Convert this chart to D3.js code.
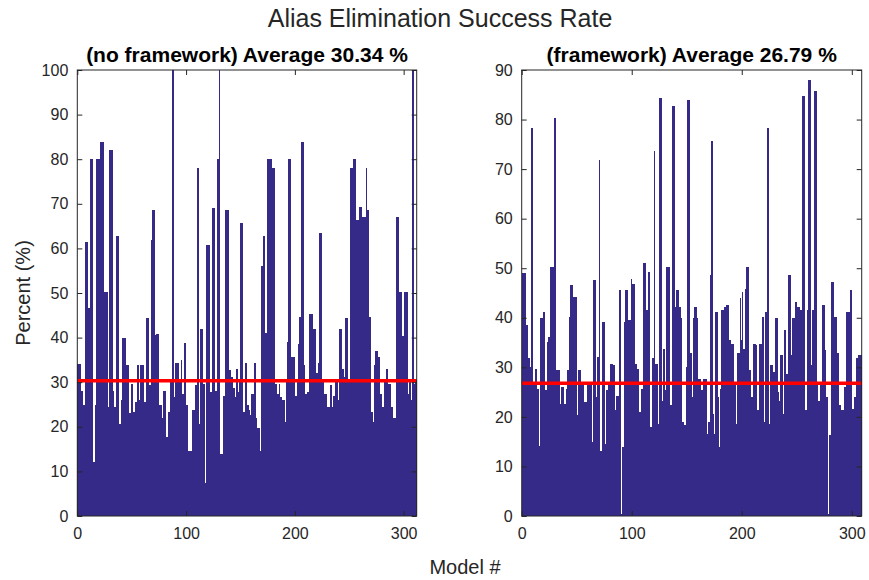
<!DOCTYPE html>
<html>
<head>
<meta charset="utf-8">
<script src="https://cdn.jsdelivr.net/npm/d3@7"></script>
<style>
  body { margin: 0; background: #fff; }
  text { font-family: "Liberation Sans", Arial, Helvetica, sans-serif; fill: #262626; }
</style>
</head>
<body>
<div id="chart"></div>
<script>
var width = 869,
  height = 580;

// success rate per model, no framework
var noFramework = [
  34,34,34,28,28,25,25,61.5,61.5,28,46.6,46.6,80,80,12,12,25,80,80,80,
  16,83.8,83.8,83.8,41.7,50.3,50.3,50.3,24.5,82,82,82,28,24.5,24.5,21,62.8,62.8,20.7,20.7,
  26,40,40,40,26,33.8,33.8,23,23,29.6,29.6,23.4,23.4,25.5,25.5,33.8,26,26,33.8,33.8,
  33.8,25.5,25.5,44.3,44.3,29.3,29.3,29.3,61.9,68.6,68.6,40.5,40.9,40.9,40.9,25,25,22,22,28,
  28,17.7,17.7,23.4,23.4,30.8,30.8,100,26.6,26.6,34.2,34.2,34.2,30,30,35,27.4,27.4,38.7,25,
  25,14.5,14.5,14.5,14.5,23.7,23.7,23.7,29.3,29.3,78,20.7,20.7,42,42,29.6,29.6,7.4,60.8,60.8,
  60.8,17.3,27.7,27.7,69,69,28,28,80,80,100,13.8,13.8,10.4,27,27,68.6,68.6,68.6,32.7,
  32.7,31.2,31.2,28.6,26.6,26.6,32.9,27.7,27.7,30.4,65.6,65.6,23.4,23.4,34.2,25,25,23.7,22.6,22.6,
  27.4,27.4,34.2,34.2,22,19.8,19.8,14.5,14.5,56,56,62.7,41,41,80,80,80,80,25.5,78,
  78,29.6,29.6,27.4,27.4,29.6,26.6,26.6,26,26,21,21,30.4,39,80,80,35.7,35.7,35.7,35.7,
  27,27,30.4,38.6,44.6,42.5,83.8,83.8,33.8,27.4,27.4,27.7,27.7,45.3,45.3,45.3,31.2,42,42,32,
  32,34.2,63.5,63.5,30.8,30.8,27.4,27.4,27.4,24.5,24.5,24.5,29.3,29.3,24.5,27,27,30,30,26,
  26,42,42,33,33,31.2,44.3,44.3,30.4,30.4,23.7,78,78,80,80,80,66.3,66.3,21,69.3,
  69.3,32.7,67,67,67,78,68.6,68.6,44.6,23.4,23.4,21,21,33.8,37.1,37.1,35.7,35.7,27.4,27.4,
  24.5,24.5,30,30,33,29.6,29.6,29.6,24.5,24.5,22,22,19.5,67,67,31.2,50.3,50.3,40.3,40.3,
  50.3,50.3,50.3,27.4,27.4,30,26,26,100,29.6,30.4,30.4
];

// success rate per model, with framework
var withFramework = [
  49,49,49,38.5,38.5,31.8,31.8,30,78.3,78.3,26.4,26.4,29.7,25.7,25.7,14.2,14.2,39.9,39.9,41.2,
  41.2,25.4,25.4,35.1,36.1,36.1,50.3,50.3,50.3,80.3,80.3,29.4,29.4,29.4,22.7,22.7,26,26,22.7,22.7,
  25.7,29.4,29.4,40.2,46.6,46.6,30,44.2,44.2,44.2,20.3,29.4,29.4,26.4,26.7,26.7,17.6,23,23,26.7,
  26.7,26.7,26.7,14.9,14.9,47.6,47.6,24,32.1,32.1,71.9,13.2,13.2,39.2,39.2,8.2,14.6,25.4,27,27,
  30.7,30.7,30.4,30.4,21.3,21.3,24.3,24.3,45.6,45.6,0.4,13.9,13.9,39.2,45.6,45.6,31.8,39.5,39.5,47.9,
  46.9,46.9,30.7,30.7,29.7,29.7,21,21,25.7,25.7,51,51,41.5,41.5,25.7,49.3,17.9,17.9,31.8,31.8,
  73.6,30.7,30.7,18.6,18.6,84.4,84.4,23.3,33.8,33.8,25.4,50.3,50.3,50.3,12.5,22.3,22.3,82.7,82.7,42.2,
  45.6,45.6,42.2,42.2,39.9,19,19,18.3,18.3,30,84,84,32.8,32.8,24,24,39.9,42.2,42.2,39.9,
  27.7,27.7,25.4,25.4,21.6,27.7,27.7,27.7,16.6,19,19,48.6,75.6,20.6,16.6,16.6,41.2,41.2,24,13.9,
  25.7,41.5,41.5,17.3,42.2,42.2,42.5,42.5,35.5,35.5,34.8,34.8,26.4,26.4,18.6,18.6,32.8,32.8,43.9,35.5,
  45.2,33.8,33.8,45.9,50.3,50.3,29.4,29.4,24,24,34.8,34.8,34.5,13.6,21.3,21.3,34.8,34.8,40.2,40.2,
  19,41.2,41.2,78.3,18.6,18.6,30.4,30.4,29.1,29.1,39.9,39.9,25,23.3,23.3,32.4,32.4,20.6,37.5,37.5,
  28.7,28.7,48.6,48.6,32.4,32.4,39.9,39.9,43.2,43.2,42.2,42.2,41.5,41.5,25.4,84.7,84.7,21.3,21.3,41.5,
  88,88,30.4,30.4,41.5,41.5,85.7,85.7,26.7,23.3,23.3,27,27,42.5,42.5,33.4,24,24,0.4,16.3,
  16.3,47.3,47.3,13.9,40.2,40.2,32.8,32.8,22.3,22.3,21.3,21.3,11.9,26,26,41.2,41.2,41.2,45.6,45.6,
  21.6,21.6,24,24,31.8,31.8,32.4,32.4,32.4
];

var averages = [30.34, 26.79];
var subtitles = ["(no framework) Average 30.34 %", "(framework) Average 26.79 %"];
var xTicks = [0, 100, 200, 300];
var yTicksLeft = [0, 10, 20, 30, 40, 50, 60, 70, 80, 90, 100];
var yTicksRight = [0, 10, 20, 30, 40, 50, 60, 70, 80, 90];
var yMax = [100, 90];

var barColor = "#352a87",
  axisColor = "#262626";

var svg = d3.select("#chart").append("svg")
  .attr("width", width)
  .attr("height", height);

svg.append("text")
  .attr("x", 440)
  .attr("y", 27)
  .attr("text-anchor", "middle")
  .style("font-size", "25px")
  .text("Alias Elimination Success Rate");

svg.append("text")
  .attr("x", 465)
  .attr("y", 574)
  .attr("text-anchor", "middle")
  .style("font-size", "20px")
  .text("Model #");

svg.append("text")
  .attr("transform", "translate(30,293) rotate(-90)")
  .attr("text-anchor", "middle")
  .style("font-size", "20px")
  .text("Percent (%)");

var panels = [
  { values: noFramework, left: 77.3, right: 416.7, yTicks: yTicksLeft },
  { values: withFramework, left: 521.7, right: 861.7, yTicks: yTicksRight }
];

panels.forEach(function(p, k) {
  var top = 70, bottom = 516;
  var n = p.values.length;

  var x = d3.scaleLinear().domain([0, n]).range([p.left, p.right]);
  var y = d3.scaleLinear().domain([0, yMax[k]]).range([bottom, top]);

  var g = svg.append("g").attr("class", "panel");

  // bars, overlapped a bit so no seams show between them
  var bw = x(1) - x(0);
  g.append("g")
    .attr("shape-rendering", "crispEdges")
    .selectAll("rect")
    .data(p.values)
    .enter().append("rect")
    .attr("x", function(d, i) { return x(i); })
    .attr("width", bw + 0.6)
    .attr("y", function(d) { return y(d); })
    .attr("height", function(d) { return y(0) - y(d); })
    .attr("fill", barColor);

  // average line
  g.append("line")
    .attr("x1", x(0))
    .attr("x2", x(n))
    .attr("y1", y(averages[k]))
    .attr("y2", y(averages[k]))
    .attr("stroke", "#ff0000")
    .attr("stroke-width", 3.5);

  // axes, ticks pointing inward like matlab
  var xAxis = g.append("g")
    .attr("transform", "translate(0," + bottom + ")")
    .call(d3.axisBottom(x).tickValues(xTicks).tickSize(-5).tickPadding(12));
  var xTop = g.append("g")
    .attr("transform", "translate(0," + top + ")")
    .call(d3.axisTop(x).tickValues(xTicks).tickSize(-5).tickFormat(""));
  var yAxis = g.append("g")
    .attr("transform", "translate(" + p.left + ",0)")
    .call(d3.axisLeft(y).tickValues(p.yTicks).tickSize(-5).tickPadding(9));
  var yRight = g.append("g")
    .attr("transform", "translate(" + p.right + ",0)")
    .call(d3.axisRight(y).tickValues(p.yTicks).tickSize(-5).tickFormat(""));

  [xAxis, xTop, yAxis, yRight].forEach(function(a) {
    a.select(".domain").remove();
    a.selectAll("line").attr("stroke", axisColor);
    a.selectAll("text")
      .style("font-size", "16px")
      .style("font-family", '"Liberation Sans", Arial, sans-serif')
      .attr("fill", axisColor);
  });

  g.append("rect")
    .attr("x", p.left)
    .attr("y", top)
    .attr("width", p.right - p.left)
    .attr("height", bottom - top)
    .attr("fill", "none")
    .attr("stroke", axisColor)
    .attr("stroke-width", 1);

  g.append("text")
    .attr("x", (p.left + p.right) / 2)
    .attr("y", 62)
    .attr("text-anchor", "middle")
    .style("font-size", "21px")
    .style("font-weight", "bold")
    .style("fill", "#000")
    .text(subtitles[k]);
});
</script>
</body>
</html>
